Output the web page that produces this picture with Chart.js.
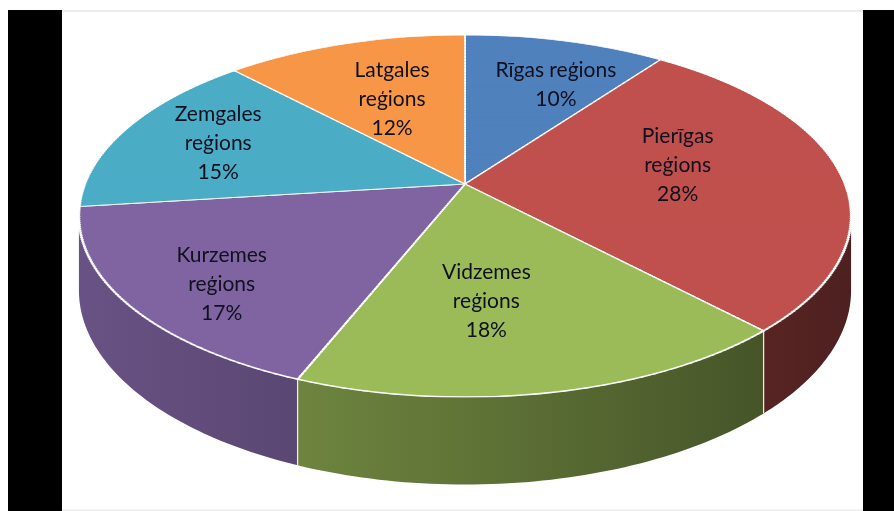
<!DOCTYPE html>
<html lang="lv">
<head>
<meta charset="utf-8">
<title>Reģioni</title>
<script src="https://cdn.jsdelivr.net/npm/chart.js@4.4.1/dist/chart.umd.min.js"></script>
<style>
  html, body { margin: 0; padding: 0; background: #fff; }
  #wrap { position: relative; width: 894px; height: 511px; overflow: hidden; }
  .bar { position: absolute; background: #000; }
  #panel { position: absolute; left: 62px; top: 10px; width: 801px; height: 497px;
           border-top: 2px solid #ececec; border-bottom: 2px solid #f0f0f0; }
  canvas { position: absolute; left: 0; top: 0; }
</style>
</head>
<body>
<div id="wrap">
  <div class="bar" style="left:8px;top:10px;width:54px;height:501px"></div>
  <div class="bar" style="left:863px;top:10px;width:31px;height:501px"></div>
  <div id="panel"></div>
  <canvas id="pie" width="894" height="511"></canvas>
</div>
<script>
// data
const regions = ['Rīgas reģions', 'Pierīgas reģions', 'Vidzemes reģions', 'Kurzemes reģions', 'Zemgales reģions', 'Latgales reģions']
const shares = [10, 28, 18, 17, 15, 12]
const sliceColors = ['#4F81BD', '#C0504D', '#9BBB59', '#8064A2', '#4BACC6', '#F79646']

// perspective of the tilted disc (screen px)
const view = { cx: 465, cy: 184, ax: 380, by: 175.4, t: 0.1768, depth: 72 }

function project(u, v) {
  const d = 1 + view.t * v
  return { x: view.cx + view.ax * u / d, y: view.cy - view.by * v / d }
}

function shade(hex, f) {
  const n = parseInt(hex.slice(1), 16)
  const r = Math.round(((n >> 16) & 255) * f)
  const g = Math.round(((n >> 8) & 255) * f)
  const b = Math.round((n & 255) * f)
  return `rgb(${r},${g},${b})`
}

// rim point for a canvas angle, top or bottom of the wall
function rim(a, bottom) {
  const v = -Math.sin(a)
  const p = project(Math.cos(a), v)
  if (bottom) p.y += view.depth / (1 + view.t * v)
  return p
}

const pie3d = {
  id: 'pie3d',
  beforeDatasetsDraw(chart) {
    const ctx = chart.ctx
    const arcs = chart.getDatasetMeta(0).data
    const R = arcs[0].outerRadius, ox = arcs[0].x, oy = arcs[0].y

    // side wall: only the part that faces us
    const lo = Math.asin(view.t), hi = Math.PI - Math.asin(view.t)
    const left = project(-1, 0).x - 10, right = project(1, 0).x + 10
    arcs.forEach((arc, i) => {
      const a0 = Math.max(arc.startAngle, lo), a1 = Math.min(arc.endAngle, hi)
      if (a1 <= a0) return
      const g = ctx.createLinearGradient(left, 0, right, 0)
      g.addColorStop(0, shade(sliceColors[i], 0.82))
      g.addColorStop(0.5, shade(sliceColors[i], 0.62))
      g.addColorStop(1, shade(sliceColors[i], 0.4))
      ctx.beginPath()
      const n = 60
      for (let k = 0; k <= n; k++) {
        const p = rim(a0 + (a1 - a0) * k / n, false)
        k ? ctx.lineTo(p.x, p.y) : ctx.moveTo(p.x, p.y)
      }
      for (let k = n; k >= 0; k--) {
        const p = rim(a0 + (a1 - a0) * k / n, true)
        ctx.lineTo(p.x, p.y)
      }
      ctx.closePath()
      ctx.fillStyle = g
      ctx.fill()
    })
    // light edges where slices meet on the wall
    arcs.forEach(arc => {
      const a = arc.startAngle
      if (a <= lo || a >= hi) return
      const p = rim(a, false), q = rim(a, true)
      ctx.beginPath()
      ctx.moveTo(p.x, p.y)
      ctx.lineTo(q.x, q.y)
      ctx.strokeStyle = 'rgba(255,255,235,0.85)'
      ctx.lineWidth = 1.3
      ctx.stroke()
    })

    // top face: the library's arcs, drawn in thin bands with perspective scaling
    const N = 180
    for (let b = 0; b < N; b++) {
      const v1 = -1 + 2 * b / N, v2 = -1 + 2 * (b + 1) / N
      const Y1 = project(0, v1).y, Y2 = project(0, v2).y
      const sx = view.ax / (1 + view.t * (v1 + v2) / 2)
      const m = (Y2 - Y1) / (v2 - v1)
      ctx.save()
      ctx.beginPath()
      ctx.rect(0, Y2 - 0.5, chart.width, Y1 - Y2 + 1)
      ctx.clip()
      ctx.transform(sx / R, 0, 0, -m / R, view.cx - sx * ox / R, Y1 + m * (oy / R - v1))
      arcs.forEach(a => a.draw(ctx))
      ctx.restore()
    }
    return false
  },
  afterDraw(chart, args, opts) {
    const ctx = chart.ctx
    const arcs = chart.getDatasetMeta(0).data
    const total = chart.data.datasets[0].data.reduce((a, b) => a + b, 0)
    ctx.save()
    ctx.font = opts.font
    ctx.fillStyle = opts.color
    ctx.textAlign = 'center'
    ctx.textBaseline = 'middle'
    arcs.forEach((arc, i) => {
      const [r, turn] = opts.anchor[i]
      const mid = (arc.startAngle + arc.endAngle) / 2 + turn * Math.PI / 180
      const p = project(r * Math.cos(mid), -r * Math.sin(mid))
      const name = chart.data.labels[i]
      const pct = Math.round(chart.data.datasets[0].data[i] / total * 100) + '%'
      const lines = opts.wrap[i] ? name.split(' ').concat(pct) : [name, pct]
      const top = p.y - (lines.length - 1) * opts.lineHeight / 2
      lines.forEach((ln, k) => ctx.fillText(ln, p.x, top + k * opts.lineHeight))
    })
    ctx.restore()
  }
}

new Chart(document.getElementById('pie'), {
  type: 'pie',
  data: {
    labels: regions,
    datasets: [{
      data: shares,
      backgroundColor: sliceColors,
      borderColor: '#ffffff',
      borderWidth: 1.4
    }]
  },
  options: {
    responsive: false,
    animation: false,
    devicePixelRatio: 1,
    events: [],
    plugins: {
      legend: { display: false },
      tooltip: { enabled: false },
      pie3d: {
        font: '21px Lato',
        color: '#10101e',
        lineHeight: 29,
        wrap: [false, true, true, true, true, true],
        // label anchor: radius fraction, turn in degrees from mid-angle
        anchor: [[0.68, 5], [0.58, -7], [0.6, 6], [0.78, -4], [0.72, 0], [0.57, 0]]
      }
    }
  },
  plugins: [pie3d]
})
</script>
</body>
</html>
